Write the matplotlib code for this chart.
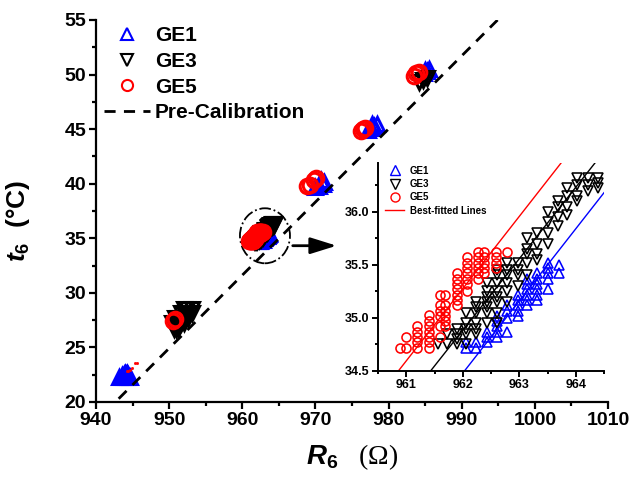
import matplotlib
matplotlib.use("Agg")
import matplotlib.pyplot as plt
from matplotlib.lines import Line2D
from matplotlib.patches import Ellipse
from matplotlib.ticker import MultipleLocator, FormatStrFormatter

plt.rcParams['font.family'] = ['Liberation Sans', 'DejaVu Sans']
plt.rcParams['font.weight'] = 'bold'
plt.rcParams['mathtext.fontset'] = 'custom'
plt.rcParams['mathtext.it'] = 'Liberation Sans:italic:bold'
plt.rcParams['mathtext.bf'] = 'Liberation Sans:bold'
plt.rcParams['mathtext.rm'] = 'Liberation Sans:bold'

# ---------------- data ----------------
series_names = ['GE1', 'GE3', 'GE5']
series_colors = ['#0000FF', '#000000', '#FF0000']

# main-plot clusters (other than the 35 degC one, which uses the inset data)
ge1_main_R = [943.2, 943.5, 943.8, 944.1, 944.4, 944.65, 943.5, 943.8, 944.1, 944.4,
              943.8, 944.1, 944.3, 944.0, 944.2,
              970.0, 970.5, 971.0, 971.2, 970.8,
              977.2, 977.6, 978.0, 978.4, 977.8,
              984.9, 985.3, 985.5, 985.0]
ge1_main_t = [22.3, 22.3, 22.3, 22.3, 22.3, 22.3, 22.45, 22.45, 22.45, 22.45,
              22.6, 22.6, 22.6, 22.7, 22.7,
              39.7, 39.8, 40.0, 40.2, 40.3,
              44.9, 45.1, 45.3, 45.5, 45.5,
              50.1, 50.3, 50.5, 50.4]

ge3_main_R = [950.6, 950.9, 951.2, 950.4, 950.8, 951.2, 951.6, 952.0,
              950.8, 951.2, 951.6, 952.0, 952.3, 952.6,
              951.6, 952.0, 952.4, 952.8, 953.1, 952.0, 952.5, 953.1,
              984.2, 984.7, 985.2]
ge3_main_t = [26.7, 26.7, 26.7, 27.2, 27.2, 27.2, 27.2, 27.2,
              27.7, 27.7, 27.7, 27.7, 27.7, 27.7,
              28.2, 28.2, 28.2, 28.2, 28.2, 28.5, 28.5, 28.5,
              49.3, 49.5, 49.7]

ge5_main_R = [950.5, 950.75,
              968.9, 969.2, 969.8, 970.1,
              976.2, 976.5, 976.8,
              983.5, 983.8, 984.1]
ge5_main_t = [27.45, 27.6,
              39.8, 39.9, 40.35, 40.5,
              44.85, 45.0, 45.1,
              49.9, 50.1, 50.2]

# tiny red points near the 22 degC cluster
ge5_small_R = [944.2, 944.4, 944.6, 944.9, 945.3, 945.6]
ge5_small_t = [22.8, 22.85, 22.9, 23.1, 23.6, 23.6]

# inset (35 degC) data: columns of (R, [t values])
ge1_in_cols = [
    (962.05, [34.72, 34.77]),
    (962.24, [34.72, 34.77]),
    (962.43, [34.77, 34.82, 34.87]),
    (962.61, [34.82, 34.87, 34.92, 34.97, 35.02]),
    (962.79, [34.87, 35.00, 35.07, 35.12]),
    (962.97, [35.02, 35.07, 35.12, 35.17, 35.22]),
    (963.14, [35.12, 35.17, 35.22, 35.27, 35.32, 35.37]),
    (963.32, [35.17, 35.22, 35.27, 35.32, 35.37, 35.42]),
    (963.50, [35.27, 35.37, 35.42, 35.47, 35.52]),
    (963.71, [35.42, 35.50]),
]
ge3_in_cols = [
    (961.56, [34.75]),
    (961.72, [34.75, 34.85]),
    (961.90, [34.75, 34.80, 34.85, 34.90]),
    (962.05, [34.75, 34.85, 34.90, 34.95, 35.05]),
    (962.24, [34.85, 34.90, 34.95, 35.05, 35.10, 35.15]),
    (962.43, [34.95, 35.05, 35.10, 35.15, 35.20, 35.25, 35.33]),
    (962.61, [34.95, 35.05, 35.15, 35.20, 35.25, 35.33, 35.40, 35.45]),
    (962.79, [35.15, 35.25, 35.33, 35.40, 35.45, 35.52]),
    (962.97, [35.30, 35.40, 35.45, 35.52]),
    (963.14, [35.40, 35.52, 35.60, 35.65, 35.75]),
    (963.32, [35.55, 35.60, 35.70, 35.80]),
    (963.50, [35.70, 35.80, 35.90, 36.00]),
    (963.68, [35.87, 35.95, 36.05, 36.10]),
    (963.85, [35.97, 36.05, 36.15, 36.22]),
    (964.03, [36.10, 36.15, 36.25, 36.32]),
    (964.21, [36.20, 36.25, 36.32]),
    (964.39, [36.22, 36.27, 36.32]),
]
ge5_in_cols = [
    (960.89, [34.72]),
    (961.00, [34.72, 34.82]),
    (961.19, [34.72, 34.77, 34.82, 34.87, 34.92]),
    (961.40, [34.72, 34.77, 34.82, 34.87, 34.92, 34.97, 35.03]),
    (961.59, [34.82, 34.92, 35.02, 35.07, 35.12, 35.22]),
    (961.69, [34.92, 34.97, 35.02, 35.07, 35.12, 35.22]),
    (961.89, [35.12, 35.17, 35.22, 35.27, 35.32, 35.37, 35.42]),
    (962.08, [35.25, 35.32, 35.37, 35.42, 35.47, 35.52, 35.57]),
    (962.27, [35.37, 35.42, 35.47, 35.52, 35.57, 35.62]),
    (962.37, [35.42, 35.47, 35.52, 35.57, 35.62]),
    (962.58, [35.47, 35.52, 35.57, 35.62]),
    (962.79, [35.62]),
]

# pre-calibration line (endpoints) and best-fit lines (endpoints)
precal_R = [943.1, 994.9]
precal_t = [20.3, 55.0]
fit_ge1_R = [962.03, 964.5]
fit_ge1_t = [34.5, 36.18]
fit_ge3_R = [961.43, 964.34]
fit_ge3_t = [34.5, 36.46]
fit_ge5_R = [960.86, 963.74]
fit_ge5_t = [34.5, 36.46]


def flatten(cols):
    R, T = [], []
    for r, ts in cols:
        for t in ts:
            R.append(r)
            T.append(t)
    return R, T


ge1_in_R, ge1_in_t = flatten(ge1_in_cols)
ge3_in_R, ge3_in_t = flatten(ge3_in_cols)
ge5_in_R, ge5_in_t = flatten(ge5_in_cols)

# ---------------- figure ----------------
fig = plt.figure(figsize=(6.33, 4.83), dpi=100)
ax = fig.add_axes([96 / 633, 1 - 402 / 483, 512 / 633, 382 / 483])

markers = ['^', 'v', 'o']
main_sets = [(ge1_main_R + ge1_in_R, ge1_main_t + ge1_in_t),
             (ge3_main_R + ge3_in_R, ge3_main_t + ge3_in_t),
             (ge5_main_R + ge5_in_R, ge5_main_t + ge5_in_t)]
for (R, T), m, c in zip(main_sets, markers, series_colors):
    ax.plot(R, T, linestyle='none', marker=m, markersize=10.5, markerfacecolor='none',
            markeredgecolor=c, markeredgewidth=2.2)
ax.plot(ge5_small_R, ge5_small_t, linestyle='none', marker='s', markersize=1.0,
        color='#FF0000')

ax.plot(precal_R, precal_t, color='k', lw=2, dashes=(4, 3))

ell = Ellipse((963.1, 35.23), width=6.84, height=5.04, fill=False, ec='k',
              lw=1.3, linestyle='-.')
ax.add_patch(ell)
ax.annotate('', xy=(972.9, 34.32), xytext=(966.9, 34.32),
            arrowprops=dict(arrowstyle='-|>,head_length=0.8,head_width=0.25',
                            lw=2, color='k', mutation_scale=20, shrinkA=0, shrinkB=0))

ax.set_xlim(940, 1010)
ax.set_ylim(20, 55)
ax.xaxis.set_major_locator(MultipleLocator(10))
ax.xaxis.set_minor_locator(MultipleLocator(5))
ax.yaxis.set_major_locator(MultipleLocator(5))
ax.yaxis.set_minor_locator(MultipleLocator(2.5))
for s in ['top', 'right']:
    ax.spines[s].set_visible(False)
for s in ['left', 'bottom']:
    ax.spines[s].set_linewidth(1.6)
ax.tick_params(which='major', direction='out', length=5, width=1.6, labelsize=14, pad=2)
ax.tick_params(which='minor', direction='out', length=3, width=1.6)
for lab in ax.get_xticklabels() + ax.get_yticklabels():
    lab.set_fontweight('bold')

ax.set_xlabel(r'$\mathit{R}_{\mathbf{6}}$' + '   (Ω)', fontsize=20,
              family='Liberation Serif', fontweight='normal', labelpad=10)
ax.set_ylabel(r'$\mathit{t}_{\mathbf{6}}$' + '  (°C)', fontsize=19,
              fontweight='bold')
ax.yaxis.set_label_coords(-0.125, 0.474)

handles = [Line2D([], [], ls='none', marker=m, ms=8, mfc='none', mec=c, mew=1.5)
           for m, c in zip(markers, series_colors)]
handles.append(Line2D([], [], color='k', lw=2, dashes=(4, 3)))
ax.legend(handles, series_names + ['Pre-Calibration'], loc='upper left',
          bbox_to_anchor=(-0.001, 1.005), frameon=False, prop={'size': 15, 'weight': 'bold'},
          handlelength=2.2, handletextpad=0.25, labelspacing=0.32, borderpad=0.2,
          borderaxespad=0.2)

# ---------------- inset ----------------
ins = fig.add_axes([378 / 633, 1 - 371 / 483, 226 / 633, 208 / 483])
ins.set_facecolor('none')
for (R, T), m, c in zip([(ge1_in_R, ge1_in_t), (ge3_in_R, ge3_in_t), (ge5_in_R, ge5_in_t)],
                        markers, series_colors):
    ins.plot(R, T, linestyle='none', marker=m, markersize=6.5, markerfacecolor='none',
             markeredgecolor=c, markeredgewidth=1.15)
ins.plot(fit_ge5_R, fit_ge5_t, color='#FF0000', lw=1)
ins.plot(fit_ge3_R, fit_ge3_t, color='#000000', lw=1)
ins.plot(fit_ge1_R, fit_ge1_t, color='#0000FF', lw=1)
ins.set_xlim(960.5, 964.5)
ins.set_ylim(34.5, 36.46)
ins.xaxis.set_major_locator(MultipleLocator(1))
ins.xaxis.set_minor_locator(MultipleLocator(0.5))
ins.yaxis.set_major_locator(MultipleLocator(0.5))
ins.yaxis.set_minor_locator(MultipleLocator(0.25))
ins.yaxis.set_major_formatter(FormatStrFormatter('%.1f'))
for s in ['top', 'right']:
    ins.spines[s].set_visible(False)
for s in ['left', 'bottom']:
    ins.spines[s].set_linewidth(1.4)
ins.tick_params(which='major', direction='out', length=4, width=1.4, labelsize=9, pad=2)
ins.tick_params(which='minor', direction='out', length=2.5, width=1.4)
for lab in ins.get_xticklabels() + ins.get_yticklabels():
    lab.set_fontweight('bold')

ihandles = [Line2D([], [], ls='none', marker=m, ms=6.5, mfc='none', mec=c, mew=1.0)
            for m, c in zip(markers, series_colors)]
ihandles.append(Line2D([], [], color='#FF0000', lw=1))
ins.legend(ihandles, series_names + ['Best-fitted Lines'], loc='upper left',
           bbox_to_anchor=(0.0, 1.02), frameon=False, prop={'size': 7, 'weight': 'bold'},
           handlelength=2.0, handletextpad=0.6, labelspacing=0.35, borderpad=0.2)

fig.savefig('out.png', dpi=100)
